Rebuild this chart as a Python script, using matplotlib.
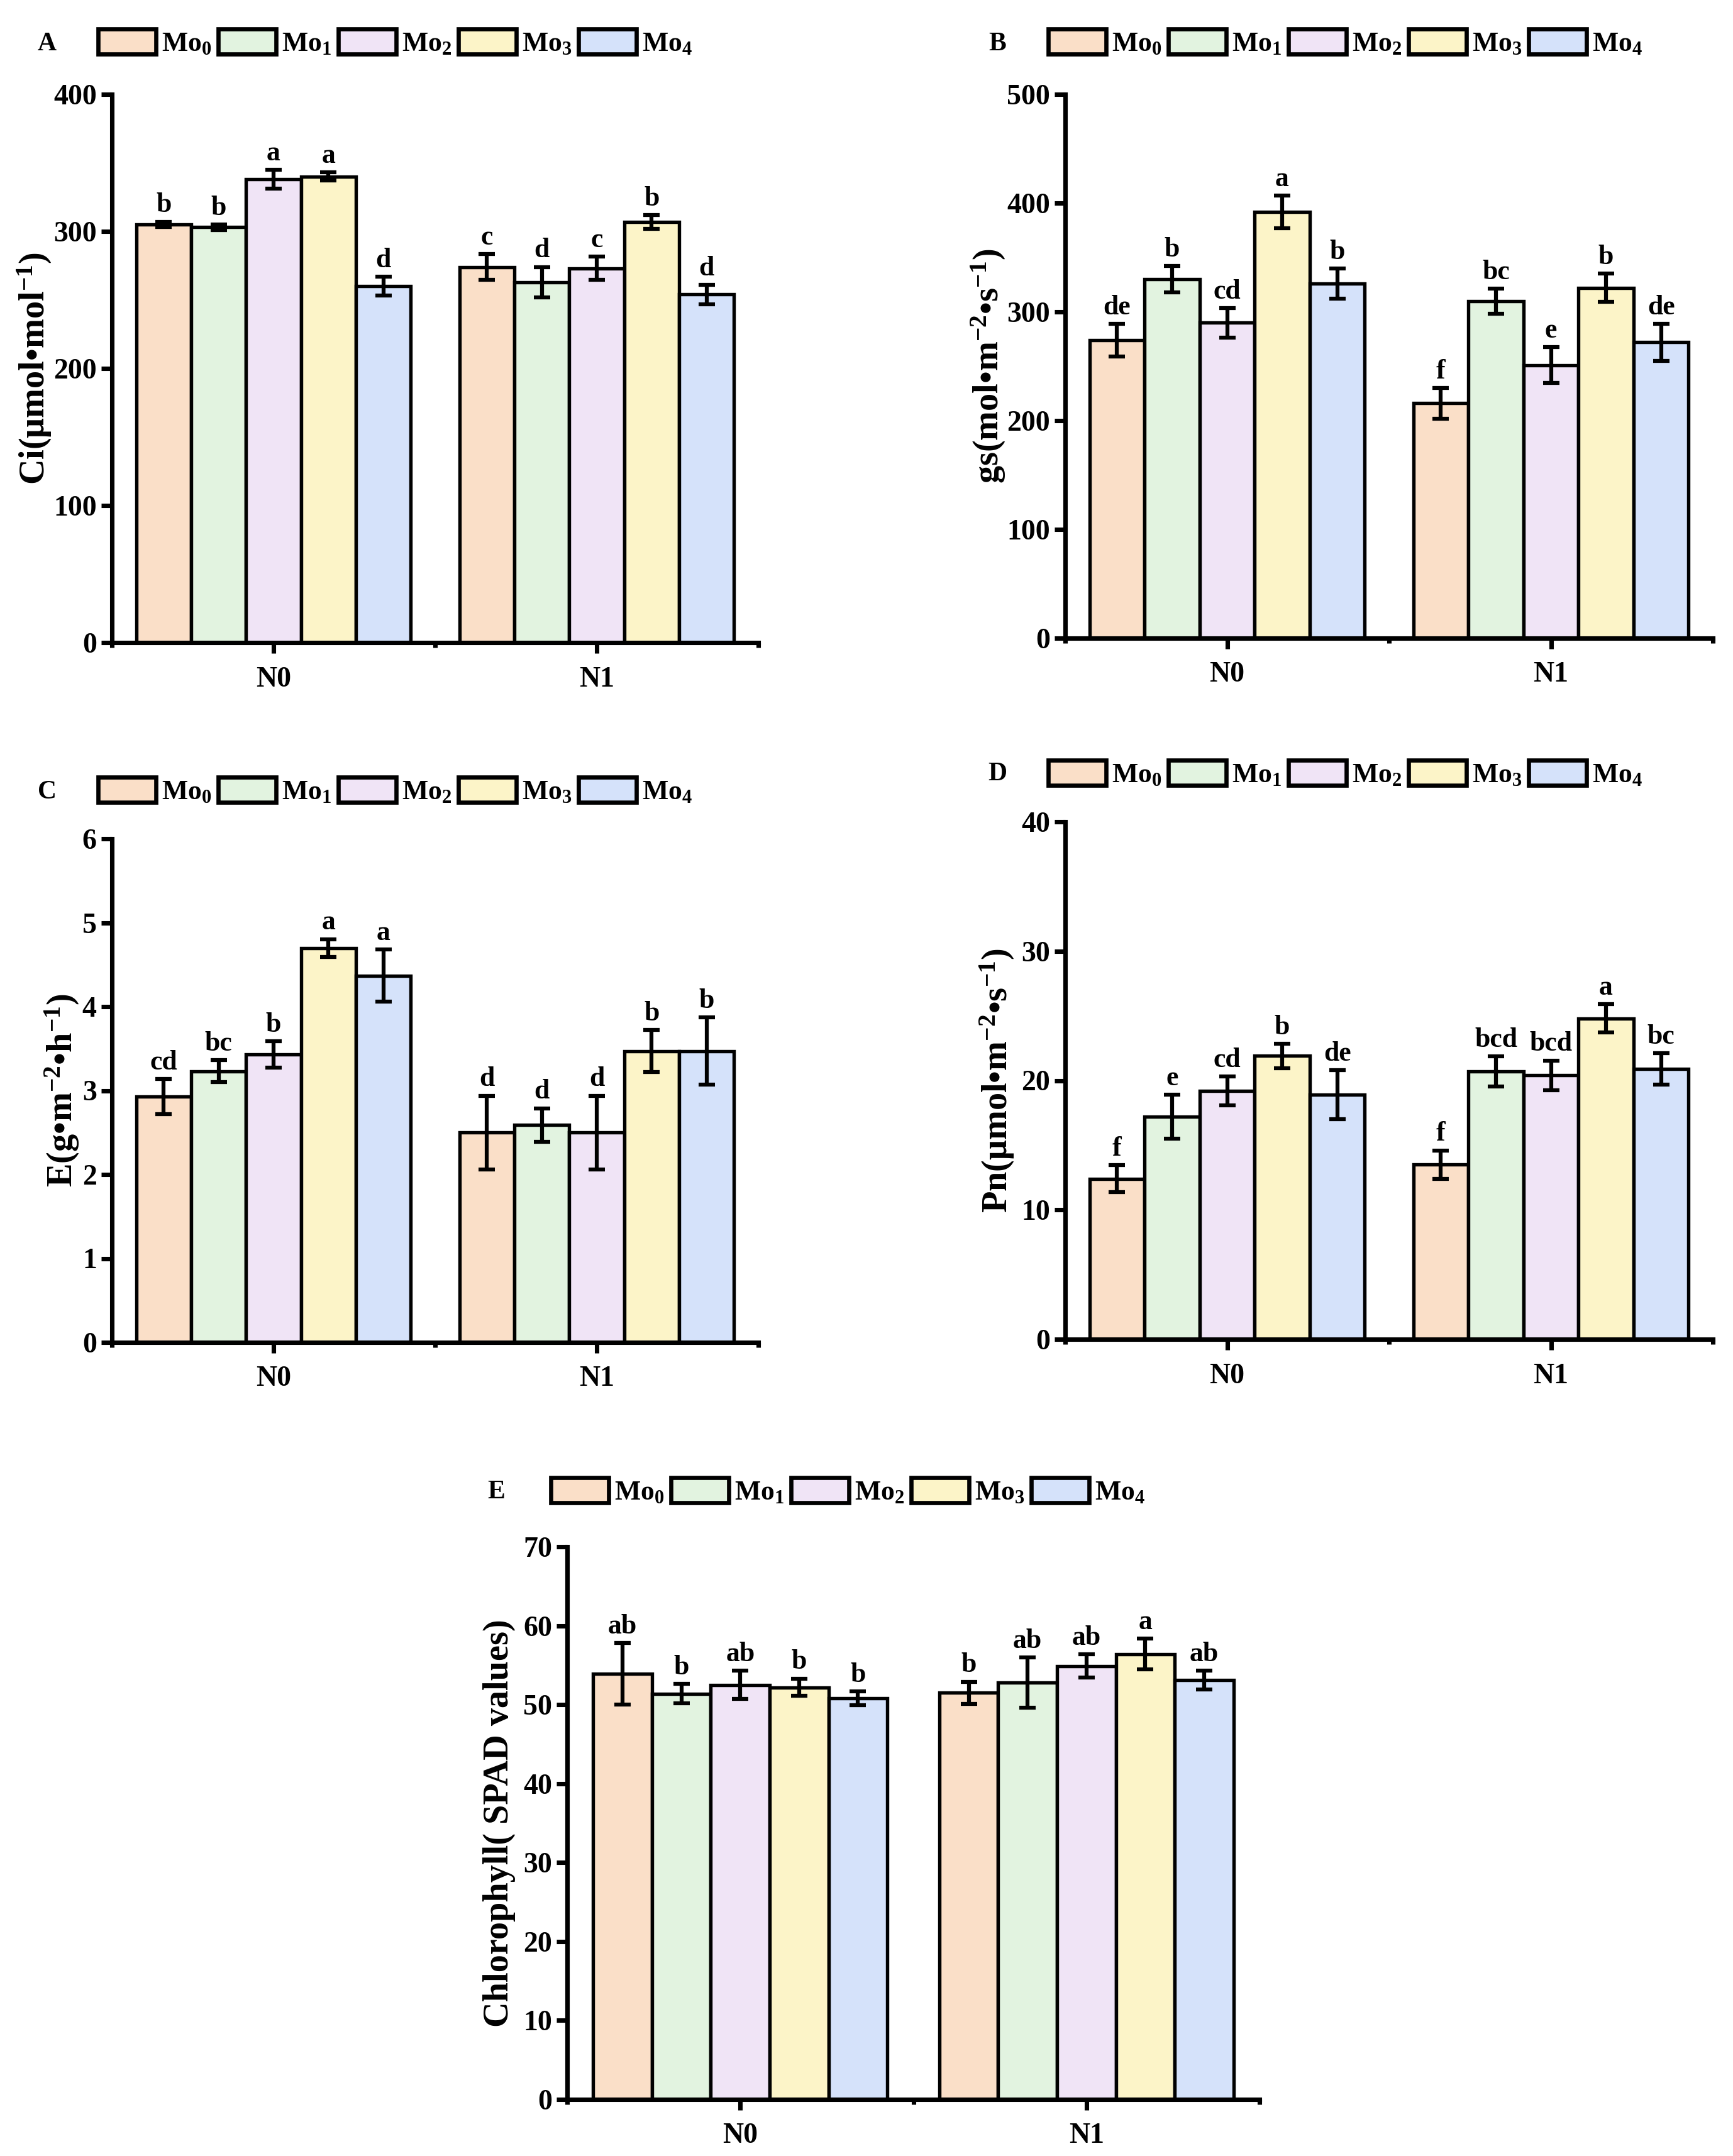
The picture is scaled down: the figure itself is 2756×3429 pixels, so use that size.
import numpy as np
import matplotlib
matplotlib.use("Agg")
import matplotlib.pyplot as plt
from matplotlib.patches import Patch
from matplotlib.ticker import MultipleLocator, FixedLocator

plt.rcParams['font.family'] = ['Liberation Serif', 'DejaVu Serif']
plt.rcParams['font.weight'] = 'bold'
plt.rcParams['mathtext.fontset'] = 'custom'
plt.rcParams['mathtext.rm'] = 'Liberation Serif:bold'
plt.rcParams['mathtext.it'] = 'Liberation Serif:bold'
plt.rcParams['mathtext.bf'] = 'Liberation Serif:bold'
plt.rcParams['mathtext.default'] = 'rm'

# ---------------- data ----------------
groups = ["N0", "N1"]
treatments = ["Mo$_0$", "Mo$_1$", "Mo$_2$", "Mo$_3$", "Mo$_4$"]
colors = ["#FADFC8", "#E2F3E0", "#F0E4F6", "#FCF4C8", "#D5E2FA"]

# A: Ci
ci_n0 = [305, 303, 338, 340, 260]
ci_n1 = [274, 263, 273, 307, 254]
ci_n0_err = [2, 2, 7, 3, 7]
ci_n1_err = [9.5, 11, 8.5, 5, 7]
ci_n0_let = ["b", "b", "a", "a", "d"]
ci_n1_let = ["c", "d", "c", "b", "d"]

# B: gs
gs_n0 = [274, 330, 290, 392, 326]
gs_n1 = [216, 310, 251, 322, 272]
gs_n0_err = [15, 12, 13.5, 15, 14]
gs_n1_err = [14, 11.5, 16.5, 13, 17]
gs_n0_let = ["de", "b", "cd", "a", "b"]
gs_n1_let = ["f", "bc", "e", "b", "de"]

# C: E
e_n0 = [2.93, 3.23, 3.43, 4.70, 4.37]
e_n1 = [2.50, 2.59, 2.50, 3.47, 3.47]
e_n0_err = [0.21, 0.13, 0.155, 0.105, 0.31]
e_n1_err = [0.44, 0.20, 0.44, 0.25, 0.40]
e_n0_let = ["cd", "bc", "b", "a", "a"]
e_n1_let = ["d", "d", "d", "b", "b"]

# D: Pn
pn_n0 = [12.4, 17.2, 19.2, 21.9, 18.9]
pn_n1 = [13.5, 20.7, 20.4, 24.8, 20.9]
pn_n0_err = [1.05, 1.7, 1.1, 0.95, 1.9]
pn_n1_err = [1.1, 1.15, 1.15, 1.1, 1.2]
pn_n0_let = ["f", "e", "cd", "b", "de"]
pn_n1_let = ["f", "bcd", "bcd", "a", "bc"]

# E: Chlorophyll
chl_n0 = [53.9, 51.4, 52.5, 52.2, 50.8]
chl_n1 = [51.5, 52.8, 54.9, 56.4, 53.1]
chl_n0_err = [3.9, 1.2, 1.8, 1.1, 0.9]
chl_n1_err = [1.4, 3.15, 1.5, 1.95, 1.2]
chl_n0_let = ["ab", "b", "ab", "b", "b"]
chl_n1_let = ["b", "ab", "ab", "a", "ab"]

ylabels = ["Ci(μmol•mol$^{-1}$)", "gs(mol•m$^{-2}$•s$^{-1}$)",
           "E(g•m$^{-2}$•h$^{-1}$)", "Pn(μmol•m$^{-2}$•s$^{-1}$)",
           "Chlorophyll( SPAD values)"]
panel_letters = ["A", "B", "C", "D", "E"]
ymax = [400, 500, 6, 40, 70]
ystep = [100, 100, 1, 10, 10]

# ---------------- layout (pixels) ----------------
W, H = 2756, 3429
DPI = 300
fig = plt.figure(figsize=(W / DPI, H / DPI), dpi=DPI)

def fx(px):
    return px / W

def fy(py):
    return 1 - py / H

# left, right, top, bottom in px ; ylabel x ; panel letter (x,y); legend (x,y)
layout = [
    dict(l=178, r=1206, t=150, b=1022, ylx=55, let=(75, 70), leg=(156, 68)),
    dict(l=1694, r=2724, t=150, b=1015, ylx=1572, let=(1586, 70), leg=(1667, 68)),
    dict(l=178, r=1206, t=1334, b=2135, ylx=99, let=(75, 1260), leg=(156, 1258)),
    dict(l=1694, r=2724, t=1307, b=2130, ylx=1586, let=(1586, 1231), leg=(1667, 1231)),
    dict(l=902, r=2003, t=2460, b=3339, ylx=794, let=(789, 2373), leg=(876, 2372)),
]

panels = [
    (ci_n0, ci_n1, ci_n0_err, ci_n1_err, ci_n0_let, ci_n1_let),
    (gs_n0, gs_n1, gs_n0_err, gs_n1_err, gs_n0_let, gs_n1_let),
    (e_n0, e_n1, e_n0_err, e_n1_err, e_n0_let, e_n1_let),
    (pn_n0, pn_n1, pn_n0_err, pn_n1_err, pn_n0_let, pn_n1_let),
    (chl_n0, chl_n1, chl_n0_err, chl_n1_err, chl_n0_let, chl_n1_let),
]

bar_w = 0.17
x_groups = np.arange(len(groups))

for i, (lay, data) in enumerate(zip(layout, panels)):
    n0, n1, e0, e1, l0, l1 = data
    ax = fig.add_axes([fx(lay['l']), fy(lay['b']),
                       fx(lay['r'] - lay['l']), (lay['b'] - lay['t']) / H])
    means = [n0, n1]
    errs = [e0, e1]
    lets = [l0, l1]
    for k in range(len(treatments)):
        xs = x_groups + (k - 2) * bar_w
        vals = [means[g][k] for g in range(2)]
        ers = [errs[g][k] for g in range(2)]
        ax.bar(xs, vals, width=bar_w, color=colors[k], edgecolor='black',
               linewidth=1.3, zorder=2)
        ax.errorbar(xs, vals, yerr=ers, fmt='none', ecolor='black',
                    elinewidth=1.5, capsize=3.2, capthick=1.5, zorder=3)
        for g in range(2):
            ax.annotate(lets[g][k], (xs[g], vals[g] + ers[g]),
                        xytext=(0, 1.5), textcoords='offset points',
                        ha='center', va='bottom', fontsize=10.5,
                        fontweight='bold')
    ax.set_xlim(-0.5, 1.5)
    ax.set_ylim(0, ymax[i])
    ax.yaxis.set_major_locator(MultipleLocator(ystep[i]))
    ax.set_xticks(x_groups)
    ax.set_xticklabels(groups, fontsize=12, fontweight='bold')
    ax.xaxis.set_minor_locator(FixedLocator([-0.5, 0.5, 1.5]))
    for sp in ['top', 'right']:
        ax.spines[sp].set_visible(False)
    for sp in ['left', 'bottom']:
        ax.spines[sp].set_linewidth(1.7)
    ax.tick_params(axis='both', which='major', direction='out', length=4,
                   width=1.7, labelsize=11)
    ax.tick_params(axis='y', which='major', pad=1.8)
    ax.tick_params(axis='x', which='minor', direction='out', length=2,
                   width=1.7)
    ax.tick_params(axis='x', which='major', pad=5)
    for lab in ax.get_yticklabels():
        lab.set_fontweight('bold')
    ax.set_ylabel(ylabels[i], fontsize=13.5, fontweight='bold')
    ax.yaxis.label.set_rotation_mode('default')
    ax.yaxis.label.set_va('center')
    ax.yaxis.label.set_ha('center')
    ax.yaxis.set_label_coords((lay['ylx'] - lay['l']) / (lay['r'] - lay['l']), 0.5)

    fig.text(fx(lay['let'][0]), fy(lay['let'][1]), panel_letters[i],
             fontsize=10, fontweight='bold', ha='center', va='center')

    handles = [Patch(facecolor=c, edgecolor='black', linewidth=1.6) for c in colors]
    fig.legend(handles, treatments, loc='center left',
               bbox_to_anchor=(fx(lay['leg'][0]), fy(lay['leg'][1])),
               ncol=5, frameon=False,
               prop=dict(weight='bold', size=10.5),
               handlelength=2.1, handleheight=1.05, handletextpad=0.2,
               columnspacing=0.25, borderpad=0, borderaxespad=0)

fig.savefig("out.png", dpi=DPI)
